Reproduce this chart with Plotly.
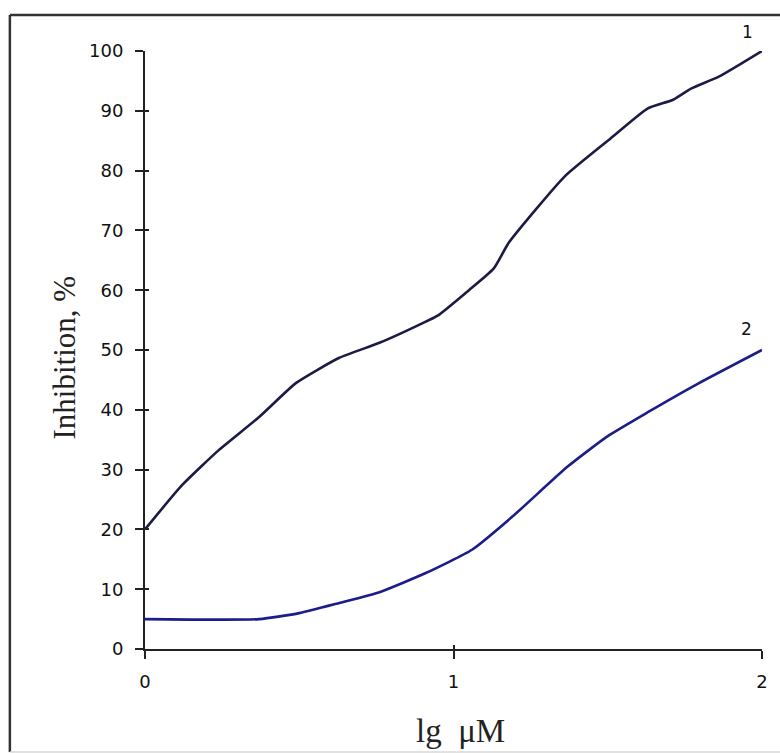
import plotly.graph_objects as go

# Curve 1 (upper)
x1 = [0.0, 0.12, 0.24, 0.37, 0.49, 0.63, 0.76, 0.90, 0.95, 1.05, 1.13, 1.18, 1.36, 1.51, 1.63, 1.71, 1.77, 1.86, 2.0]
y1 = [20.0, 27.4, 33.3, 38.8, 44.5, 48.7, 51.2, 54.5, 55.8, 60.0, 63.6, 68.0, 79.0, 85.4, 90.4, 91.8, 93.7, 95.7, 100.0]

# Curve 2 (lower)
x2 = [0.0, 0.37, 0.50, 0.63, 0.76, 0.91, 1.06, 1.19, 1.37, 1.50, 1.63, 1.79, 2.0]
y2 = [5.0, 5.0, 6.0, 7.7, 9.5, 12.7, 16.6, 22.1, 30.5, 35.6, 39.6, 44.3, 50.0]

x_ticks = [0, 1, 2]
y_ticks = [0, 10, 20, 30, 40, 50, 60, 70, 80, 90, 100]
curve_labels = ["1", "2"]

W, H = 780, 754
L, R, T, B = 145, 14, 51, 105
pw = W - L - R
ph = H - T - B

def px(xp):
    return (xp - L) / pw

def py(yp):
    return (H - B - yp) / ph

fig = go.Figure()
fig.add_trace(go.Scatter(x=x1, y=y1, mode="lines",
                         line=dict(color="#1b1b45", width=2.6, shape="spline", smoothing=0.5),
                         cliponaxis=False, showlegend=False))
fig.add_trace(go.Scatter(x=x2, y=y2, mode="lines",
                         line=dict(color="#1c1c8a", width=2.6, shape="spline", smoothing=0.5),
                         cliponaxis=False, showlegend=False))

tickfont = dict(family="DejaVu Sans", size=18, color="#111")

fig.update_layout(
    width=W, height=H,
    margin=dict(l=L, r=R, t=T, b=B),
    paper_bgcolor="white", plot_bgcolor="white",
    showlegend=False,
    xaxis=dict(range=[0, 2], tickvals=x_ticks, ticktext=[str(v) for v in x_ticks],
               showgrid=False, zeroline=False, showline=True, linecolor="#222",
               linewidth=2, ticks="outside", ticklen=8, tickwidth=2, tickcolor="#222",
               tickfont=tickfont, ticklabelstandoff=7),
    yaxis=dict(range=[0, 100], tickvals=y_ticks, ticktext=[str(v) for v in y_ticks],
               showgrid=False, zeroline=False, showline=True, linecolor="#222",
               linewidth=2, ticks="outside", ticklen=8, tickwidth=2, tickcolor="#222",
               tickfont=tickfont, ticklabelstandoff=8),
    xaxis2=dict(range=[0, 2], tickvals=x_ticks, overlaying="x", side="bottom",
                anchor="y", showticklabels=False, showgrid=False, zeroline=False,
                showline=False, ticks="inside", ticklen=4, tickwidth=2, tickcolor="#222"),
    yaxis2=dict(range=[0, 100], tickvals=y_ticks, overlaying="y", side="left",
                anchor="x", showticklabels=False, showgrid=False, zeroline=False,
                showline=False, ticks="inside", ticklen=4, tickwidth=2, tickcolor="#222"),
)

# invisible trace to activate the overlay axes
fig.add_trace(go.Scatter(x=[0], y=[0], xaxis="x2", yaxis="y2", mode="markers",
                         marker=dict(opacity=0), hoverinfo="skip", showlegend=False))

fig.add_annotation(text=curve_labels[0], x=px(751), y=py(32), xref="paper", yref="paper",
                   showarrow=False, xanchor="center", yanchor="middle",
                   font=dict(family="DejaVu Sans", size=17, color="#111"))
fig.add_annotation(text=curve_labels[1], x=px(750), y=py(329), xref="paper", yref="paper",
                   showarrow=False, xanchor="center", yanchor="middle",
                   font=dict(family="DejaVu Sans", size=17, color="#111"))

fig.add_annotation(text="Inhibition, %", x=px(63), y=py(358), xref="paper", yref="paper",
                   textangle=-90, showarrow=False, xanchor="center", yanchor="middle",
                   font=dict(family="Liberation Serif", size=31, color="#222"))
fig.add_annotation(text="lg  μM", x=px(463), y=py(731), xref="paper", yref="paper",
                   showarrow=False, xanchor="center", yanchor="middle",
                   font=dict(family="Liberation Serif", size=33, color="#222"))

# outer frame
fig.add_shape(type="line", xref="paper", yref="paper", x0=px(9), x1=px(785), y0=py(15), y1=py(15),
              line=dict(color="#333", width=2.5))
fig.add_shape(type="line", xref="paper", yref="paper", x0=px(9), x1=px(9), y0=py(15), y1=py(752),
              line=dict(color="#333", width=2.5))
fig.add_shape(type="line", xref="paper", yref="paper", x0=px(9), x1=px(785), y0=py(752), y1=py(752),
              line=dict(color="#d8d8d8", width=1.5))

fig.write_html("out.html")
